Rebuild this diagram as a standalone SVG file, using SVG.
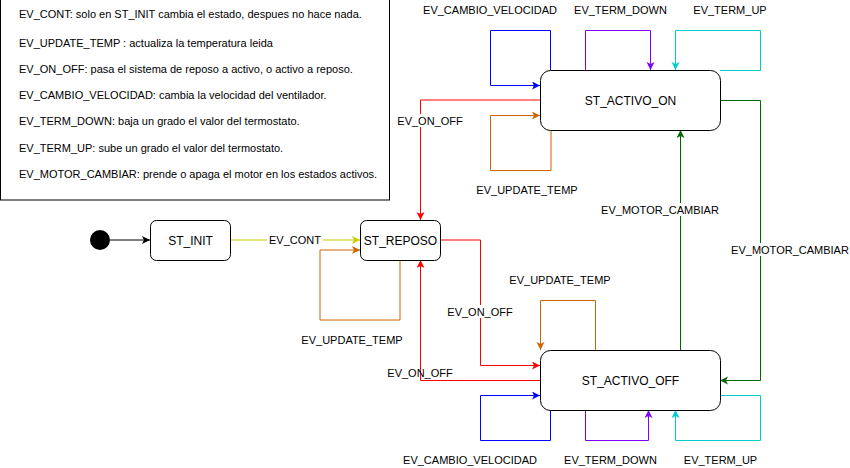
<svg xmlns="http://www.w3.org/2000/svg" width="850" height="468" viewBox="0 0 850 468">
<style>
text{font-family:"Liberation Sans",Arial,Helvetica,sans-serif;font-size:11px;fill:#000}
.st{font-size:12px;text-anchor:middle}
.lb{text-anchor:middle}
.node{fill:#fff;stroke:#000;stroke-width:1}
.e{fill:none;stroke-width:1}
.bg{fill:#fff}
</style>
<defs>
<marker id="aK" markerUnits="userSpaceOnUse" markerWidth="10" markerHeight="10" refX="8" refY="4" orient="auto"><path d="M0,0 L8,4 L0,8 L2,4 Z" fill="#000"/></marker>
<marker id="aY" markerUnits="userSpaceOnUse" markerWidth="10" markerHeight="10" refX="8" refY="4" orient="auto"><path d="M0,0 L8,4 L0,8 L2,4 Z" fill="#CCCC00"/></marker>
<marker id="aO" markerUnits="userSpaceOnUse" markerWidth="10" markerHeight="10" refX="8" refY="4" orient="auto"><path d="M0,0 L8,4 L0,8 L2,4 Z" fill="#CC6600"/></marker>
<marker id="aR" markerUnits="userSpaceOnUse" markerWidth="10" markerHeight="10" refX="8" refY="4" orient="auto"><path d="M0,0 L8,4 L0,8 L2,4 Z" fill="#FF0000"/></marker>
<marker id="aG" markerUnits="userSpaceOnUse" markerWidth="10" markerHeight="10" refX="8" refY="4" orient="auto"><path d="M0,0 L8,4 L0,8 L2,4 Z" fill="#006600"/></marker>
<marker id="aB" markerUnits="userSpaceOnUse" markerWidth="10" markerHeight="10" refX="8" refY="4" orient="auto"><path d="M0,0 L8,4 L0,8 L2,4 Z" fill="#0000FF"/></marker>
<marker id="aP" markerUnits="userSpaceOnUse" markerWidth="10" markerHeight="10" refX="8" refY="4" orient="auto"><path d="M0,0 L8,4 L0,8 L2,4 Z" fill="#7F00FF"/></marker>
<marker id="aC" markerUnits="userSpaceOnUse" markerWidth="10" markerHeight="10" refX="8" refY="4" orient="auto"><path d="M0,0 L8,4 L0,8 L2,4 Z" fill="#00CCCC"/></marker>
</defs>

<g id="legend">
<rect x="0.5" y="-1" width="389" height="201" fill="#fff" stroke="#000"/>
<text x="19" y="18">EV_CONT: solo en ST_INIT cambia el estado, despues no hace nada.</text>
<text x="19" y="47">EV_UPDATE_TEMP : actualiza la temperatura leida</text>
<text x="19" y="73">EV_ON_OFF: pasa el sistema de reposo a activo, o activo a reposo.</text>
<text x="19" y="99">EV_CAMBIO_VELOCIDAD: cambia la velocidad del ventilador.</text>
<text x="19" y="125">EV_TERM_DOWN: baja un grado el valor del termostato.</text>
<text x="19" y="152">EV_TERM_UP: sube un grado el valor del termostato.</text>
<text x="19" y="178">EV_MOTOR_CAMBIAR: prende o apaga el motor en los estados activos.</text>
</g>

<g id="edges">
<path class="e" d="M110,240 H150" stroke="#000" marker-end="url(#aK)"/>
<path class="e" d="M230,240 H360" stroke="#CCCC00" marker-end="url(#aY)"/>
<path class="e" d="M400,260 V320 H320 V250 H360" stroke="#CC6600" marker-end="url(#aO)"/>
<path class="e" d="M540,100 H420.5 V220" stroke="#FF0000" marker-end="url(#aR)"/>
<path class="e" d="M540,380.5 H420.5 V260" stroke="#FF0000" marker-end="url(#aR)"/>
<path class="e" d="M440,240 H480.5 V365.5 H540" stroke="#FF0000" marker-end="url(#aR)"/>
<path class="e" d="M550.5,70 V30.5 H490.5 V85.5 H540" stroke="#0000FF" marker-end="url(#aB)"/>
<path class="e" d="M585.5,70 V30.5 H650.5 V70" stroke="#7F00FF" marker-end="url(#aP)"/>
<path class="e" d="M720,70.5 H760.5 V30.5 H675.5 V70" stroke="#00CCCC" marker-end="url(#aC)"/>
<path class="e" d="M551,130 V170.5 H490.5 V115.5 H540" stroke="#CC6600" marker-end="url(#aO)"/>
<path class="e" d="M720,100.5 H760.5 V380.5 H720" stroke="#006600" marker-end="url(#aG)"/>
<path class="e" d="M680.5,350 V130" stroke="#006600" marker-end="url(#aG)"/>
<path class="e" d="M630,350.5 H595.5 V300.5 H540.5 V350" stroke="#CC6600" marker-end="url(#aO)"/>
<path class="e" d="M550.5,410 V440.5 H480.5 V395.5 H540" stroke="#0000FF" marker-end="url(#aB)"/>
<path class="e" d="M585.5,410 V440.5 H648.5 V410" stroke="#7F00FF" marker-end="url(#aP)"/>
<path class="e" d="M720,395.5 H760.5 V440.5 H675.5 V410" stroke="#00CCCC" marker-end="url(#aC)"/>

<rect class="bg" x="267" y="233" width="56" height="14"/>
<text class="lb" x="295" y="244">EV_CONT</text>
<rect class="bg" x="398" y="114" width="64" height="13"/>
<text class="lb" x="430" y="125">EV_ON_OFF</text>
<rect class="bg" x="448" y="305" width="64" height="13"/>
<text class="lb" x="480" y="316">EV_ON_OFF</text>
<text class="lb" x="420" y="377">EV_ON_OFF</text>
<rect class="bg" x="732" y="243" width="117" height="13"/>
<text class="lb" x="790" y="254">EV_MOTOR_CAMBIAR</text>
<rect class="bg" x="602" y="203" width="117" height="13"/>
<text class="lb" x="660" y="214">EV_MOTOR_CAMBIAR</text>
<text class="lb" x="352" y="344">EV_UPDATE_TEMP</text>
<text class="lb" x="527" y="194">EV_UPDATE_TEMP</text>
<text class="lb" x="560" y="284">EV_UPDATE_TEMP</text>
<text class="lb" x="490" y="14">EV_CAMBIO_VELOCIDAD</text>
<text class="lb" x="620.5" y="14">EV_TERM_DOWN</text>
<text class="lb" x="730" y="14">EV_TERM_UP</text>
<text class="lb" x="470" y="464">EV_CAMBIO_VELOCIDAD</text>
<text class="lb" x="610.5" y="464">EV_TERM_DOWN</text>
<text class="lb" x="720.5" y="464">EV_TERM_UP</text>
</g>

<g id="init"><circle cx="100" cy="240" r="10" fill="#000"/></g>
<g id="st_init"><rect class="node" x="150.5" y="220.5" width="80" height="40" rx="6"/><text class="st" x="190.5" y="244.5">ST_INIT</text></g>
<g id="st_reposo"><rect class="node" x="360.5" y="220.5" width="80" height="40" rx="6"/><text class="st" x="400.5" y="244.5">ST_REPOSO</text></g>
<g id="st_activo_on"><rect class="node" x="540.5" y="70.5" width="180" height="60" rx="10"/><text class="st" x="630.5" y="104.5">ST_ACTIVO_ON</text></g>
<g id="st_activo_off"><rect class="node" x="540.5" y="350.5" width="180" height="60" rx="10"/><text class="st" x="630.5" y="384.5">ST_ACTIVO_OFF</text></g>
</svg>
